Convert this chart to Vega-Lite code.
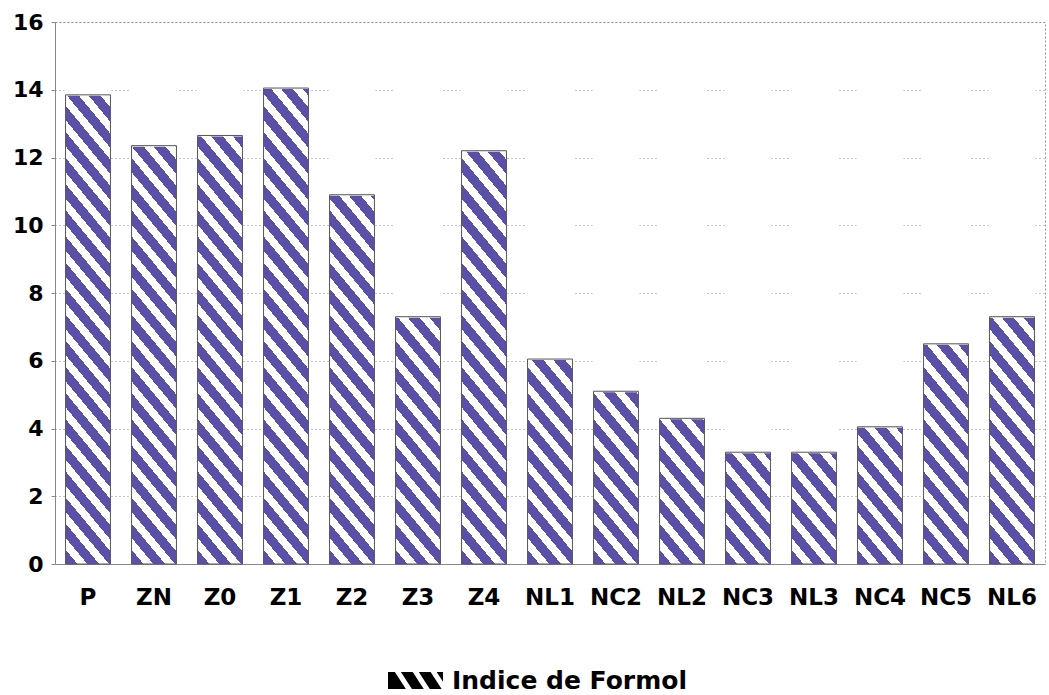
{
  "$schema": "https://vega.github.io/schema/vega-lite/v6.json",
  "width": 990,
  "height": 542,
  "autosize": {"type": "none"},
  "padding": {"left": 55, "top": 22, "right": 4, "bottom": 131},
  "background": "white",
  "config": {
    "view": {"stroke": "#9a9a9a", "strokeDash": [2, 2]},
    "font": "DejaVu Sans",
    "axisY": {
      "grid": true,
      "gridDash": [1, 3],
      "gridColor": "#888888",
      "gridWidth": 1,
      "domainColor": "#888888",
      "tickColor": "#888888",
      "tickSize": 4,
      "tickCount": 8,
      "labelFont": "DejaVu Sans",
      "labelFontWeight": "bold",
      "labelFontSize": 22,
      "labelColor": "black",
      "labelPadding": 8
    },
    "axisX": {
      "grid": false,
      "labelAngle": 0,
      "ticks": false,
      "labelPadding": 22,
      "labelFont": "DejaVu Sans",
      "labelFontWeight": "bold",
      "labelFontSize": 23,
      "labelColor": "black",
      "domainColor": "#888888"
    }
  },
  "data": {
    "values": [
      {"cat": "P", "value": 13.85},
      {"cat": "ZN", "value": 12.35},
      {"cat": "Z0", "value": 12.65},
      {"cat": "Z1", "value": 14.05},
      {"cat": "Z2", "value": 10.9},
      {"cat": "Z3", "value": 7.3},
      {"cat": "Z4", "value": 12.2},
      {"cat": "NL1", "value": 6.05},
      {"cat": "NC2", "value": 5.1},
      {"cat": "NL2", "value": 4.3},
      {"cat": "NC3", "value": 3.3},
      {"cat": "NL3", "value": 3.3},
      {"cat": "NC4", "value": 4.05},
      {"cat": "NC5", "value": 6.5},
      {"cat": "NL6", "value": 7.3}
    ]
  },
  "encoding": {
    "x": {
      "field": "cat",
      "type": "nominal",
      "sort": null,
      "title": null,
      "scale": {"paddingInner": 0.32, "paddingOuter": 0.16}
    }
  },
  "layer": [
    {
      "mark": {
        "type": "bar",
        "fill": {
          "gradient": "linear",
          "x1": 0, "y1": 1, "x2": 0.1204, "y2": -0.2,
          "stops": [
            {"offset": 0, "color": "#5b50a8"}, {"offset": 0.022, "color": "#5b50a8"}, {"offset": 0.022, "color": "#ffffff"}, {"offset": 0.04, "color": "#ffffff"},
            {"offset": 0.04, "color": "#5b50a8"}, {"offset": 0.062, "color": "#5b50a8"}, {"offset": 0.062, "color": "#ffffff"}, {"offset": 0.08, "color": "#ffffff"},
            {"offset": 0.08, "color": "#5b50a8"}, {"offset": 0.102, "color": "#5b50a8"}, {"offset": 0.102, "color": "#ffffff"}, {"offset": 0.12, "color": "#ffffff"},
            {"offset": 0.12, "color": "#5b50a8"}, {"offset": 0.142, "color": "#5b50a8"}, {"offset": 0.142, "color": "#ffffff"}, {"offset": 0.16, "color": "#ffffff"},
            {"offset": 0.16, "color": "#5b50a8"}, {"offset": 0.182, "color": "#5b50a8"}, {"offset": 0.182, "color": "#ffffff"}, {"offset": 0.2, "color": "#ffffff"},
            {"offset": 0.2, "color": "#5b50a8"}, {"offset": 0.222, "color": "#5b50a8"}, {"offset": 0.222, "color": "#ffffff"}, {"offset": 0.24, "color": "#ffffff"},
            {"offset": 0.24, "color": "#5b50a8"}, {"offset": 0.262, "color": "#5b50a8"}, {"offset": 0.262, "color": "#ffffff"}, {"offset": 0.28, "color": "#ffffff"},
            {"offset": 0.28, "color": "#5b50a8"}, {"offset": 0.302, "color": "#5b50a8"}, {"offset": 0.302, "color": "#ffffff"}, {"offset": 0.32, "color": "#ffffff"},
            {"offset": 0.32, "color": "#5b50a8"}, {"offset": 0.342, "color": "#5b50a8"}, {"offset": 0.342, "color": "#ffffff"}, {"offset": 0.36, "color": "#ffffff"},
            {"offset": 0.36, "color": "#5b50a8"}, {"offset": 0.382, "color": "#5b50a8"}, {"offset": 0.382, "color": "#ffffff"}, {"offset": 0.4, "color": "#ffffff"},
            {"offset": 0.4, "color": "#5b50a8"}, {"offset": 0.422, "color": "#5b50a8"}, {"offset": 0.422, "color": "#ffffff"}, {"offset": 0.44, "color": "#ffffff"},
            {"offset": 0.44, "color": "#5b50a8"}, {"offset": 0.462, "color": "#5b50a8"}, {"offset": 0.462, "color": "#ffffff"}, {"offset": 0.48, "color": "#ffffff"},
            {"offset": 0.48, "color": "#5b50a8"}, {"offset": 0.502, "color": "#5b50a8"}, {"offset": 0.502, "color": "#ffffff"}, {"offset": 0.52, "color": "#ffffff"},
            {"offset": 0.52, "color": "#5b50a8"}, {"offset": 0.542, "color": "#5b50a8"}, {"offset": 0.542, "color": "#ffffff"}, {"offset": 0.56, "color": "#ffffff"},
            {"offset": 0.56, "color": "#5b50a8"}, {"offset": 0.582, "color": "#5b50a8"}, {"offset": 0.582, "color": "#ffffff"}, {"offset": 0.6, "color": "#ffffff"},
            {"offset": 0.6, "color": "#5b50a8"}, {"offset": 0.622, "color": "#5b50a8"}, {"offset": 0.622, "color": "#ffffff"}, {"offset": 0.64, "color": "#ffffff"},
            {"offset": 0.64, "color": "#5b50a8"}, {"offset": 0.662, "color": "#5b50a8"}, {"offset": 0.662, "color": "#ffffff"}, {"offset": 0.68, "color": "#ffffff"},
            {"offset": 0.68, "color": "#5b50a8"}, {"offset": 0.702, "color": "#5b50a8"}, {"offset": 0.702, "color": "#ffffff"}, {"offset": 0.72, "color": "#ffffff"},
            {"offset": 0.72, "color": "#5b50a8"}, {"offset": 0.742, "color": "#5b50a8"}, {"offset": 0.742, "color": "#ffffff"}, {"offset": 0.76, "color": "#ffffff"},
            {"offset": 0.76, "color": "#5b50a8"}, {"offset": 0.782, "color": "#5b50a8"}, {"offset": 0.782, "color": "#ffffff"}, {"offset": 0.8, "color": "#ffffff"},
            {"offset": 0.8, "color": "#5b50a8"}, {"offset": 0.822, "color": "#5b50a8"}, {"offset": 0.822, "color": "#ffffff"}, {"offset": 0.84, "color": "#ffffff"},
            {"offset": 0.84, "color": "#5b50a8"}, {"offset": 0.862, "color": "#5b50a8"}, {"offset": 0.862, "color": "#ffffff"}, {"offset": 0.88, "color": "#ffffff"},
            {"offset": 0.88, "color": "#5b50a8"}, {"offset": 0.902, "color": "#5b50a8"}, {"offset": 0.902, "color": "#ffffff"}, {"offset": 0.92, "color": "#ffffff"},
            {"offset": 0.92, "color": "#5b50a8"}, {"offset": 0.942, "color": "#5b50a8"}, {"offset": 0.942, "color": "#ffffff"}, {"offset": 0.96, "color": "#ffffff"},
            {"offset": 0.96, "color": "#5b50a8"}, {"offset": 0.982, "color": "#5b50a8"}, {"offset": 0.982, "color": "#ffffff"}, {"offset": 1, "color": "#ffffff"}
          ]
        }
      },
      "encoding": {
        "y": {"datum": 0, "type": "quantitative", "title": null, "scale": {"domain": [0, 16], "nice": false}},
        "y2": {"datum": 15.9}
      }
    },
    {
      "mark": {"type": "bar", "fill": "white", "stroke": "white", "strokeWidth": 2},
      "encoding": {
        "y": {"field": "value", "type": "quantitative", "title": null},
        "y2": {"datum": 15.9}
      }
    },
    {
      "mark": {"type": "bar", "fill": "black", "fillOpacity": 0, "strokeWidth": 1},
      "encoding": {
        "y": {"field": "value", "type": "quantitative", "title": null},
        "y2": {"datum": 0},
        "stroke": {
          "datum": "Indice de Formol",
          "type": "nominal",
          "scale": {"range": ["#555555"]},
          "legend": {
            "orient": "none",
            "legendX": 333,
            "legendY": 631,
            "title": null,
            "padding": 0,
            "symbolType": "M-1,-0.31L-0.75,-0.31L-0.35,0.31L-1,0.31ZM-0.53,-0.31L-0.1,-0.31L0.3,0.31L-0.13,0.31ZM0.12,-0.31L0.55,-0.31L0.95,0.31L0.52,0.31ZM0.77,-0.31L1,-0.31L1,0.0465Z",
            "symbolSize": 3025,
            "symbolFillColor": "black",
            "symbolStrokeWidth": 0,
            "symbolOpacity": 1,
            "labelFont": "DejaVu Sans",
            "labelFontWeight": "bold",
            "labelFontSize": 25,
            "labelColor": "black",
            "labelOffset": 9,
            "labelLimit": 0
          }
        }
      }
    }
  ]
}
